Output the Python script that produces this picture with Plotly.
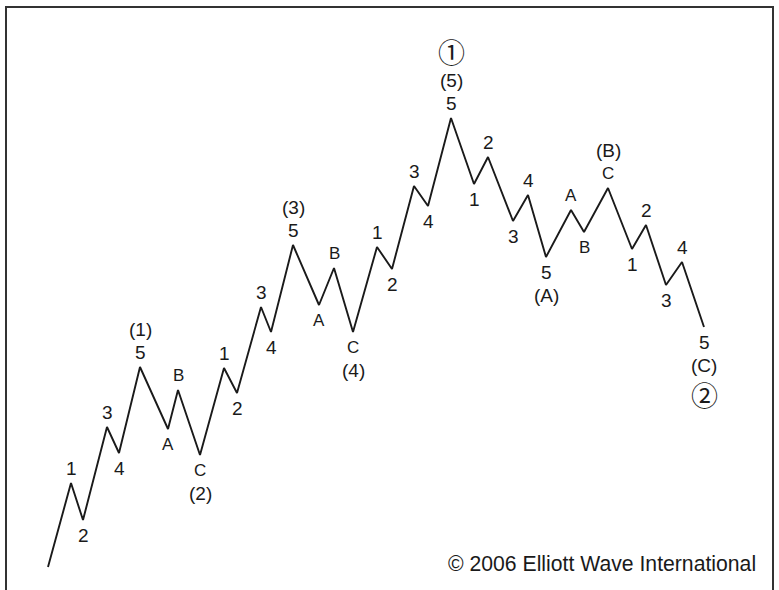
import plotly.graph_objects as go

# Wave vertices (x position, price level)
wave_x = [48, 71, 83, 107, 119, 140, 168, 178, 200, 224, 237, 261, 271, 293, 319, 334, 353,
          377, 392, 414, 428, 451, 474, 488, 513, 528, 546, 571, 584, 608, 632, 646, 666, 682, 704]
wave_y = [23, 107, 70, 163, 137, 223, 161, 200, 135, 222, 197, 283, 258, 345, 285, 322, 258,
          343, 321, 404, 384, 472, 406, 433, 369, 395, 333, 380, 358, 402, 341, 365, 305, 328, 263]
# Labels at each vertex, lines separated by "|" (nearest the vertex first)
wave_labels = ["", "1", "2", "3", "4", "5|(1)", "A", "B", "C|(2)", "1", "2", "3", "4", "5|(3)",
               "A", "B", "C|(4)", "1", "2", "3", "4", "5|(5)|①", "1", "2", "3", "4", "5|(A)",
               "A", "B", "C|(B)", "1", "2", "3", "4", "5|(C)|②"]
copyright_text = "© 2006 Elliott Wave International"

W, H = 779, 590
FONT = "Liberation Sans, Arial, Helvetica, sans-serif"

fig = go.Figure()
fig.add_trace(go.Scatter(x=wave_x, y=wave_y, mode="lines",
                         line=dict(color="#1a1a1a", width=1.9), hoverinfo="skip"))

offsets = [15, 38, 67]
n = len(wave_x)
for i, lab in enumerate(wave_labels):
    if not lab:
        continue
    prev_y = wave_y[i - 1] if i > 0 else None
    next_y = wave_y[i + 1] if i < n - 1 else None
    up = wave_y[i] > next_y if next_y is not None else wave_y[i] > prev_y
    sign = 1 if up else -1
    for j, part in enumerate(lab.split("|")):
        if part in ("①", "②"):
            size, fam = 27, "Noto Sans CJK JP, Noto Sans CJK SC, DejaVu Sans"
        elif part in ("A", "B", "C"):
            size, fam = 17, FONT
        else:
            size, fam = 19, FONT
        fig.add_annotation(x=wave_x[i], y=wave_y[i], text=part, showarrow=False,
                           xanchor="center", yanchor="middle",
                           yshift=sign * offsets[j],
                           font=dict(family=fam, size=size, color="#1a1a1a"))

fig.add_annotation(x=758 / W, y=1 - 563 / H, xref="paper", yref="paper",
                   text=copyright_text, showarrow=False, xanchor="right", yanchor="middle",
                   font=dict(family=FONT, size=21.2, color="#1a1a1a"))

# Frame
fig.add_shape(type="rect", xref="paper", yref="paper",
              x0=6 / W, x1=773 / W, y0=-0.1, y1=1 - 7 / H,
              line=dict(color="#333333", width=2), fillcolor="rgba(0,0,0,0)")

fig.update_layout(width=W, height=H, margin=dict(l=0, r=0, t=0, b=0),
                  paper_bgcolor="white", plot_bgcolor="white", showlegend=False,
                  xaxis=dict(range=[0, W], visible=False, fixedrange=True),
                  yaxis=dict(range=[0, H], visible=False, fixedrange=True))

fig.write_html("out.html", config={"displayModeBar": False},
               post_script="document.body.style.margin='0';document.body.style.padding='0';"
                           "document.body.style.overflow='hidden';")
